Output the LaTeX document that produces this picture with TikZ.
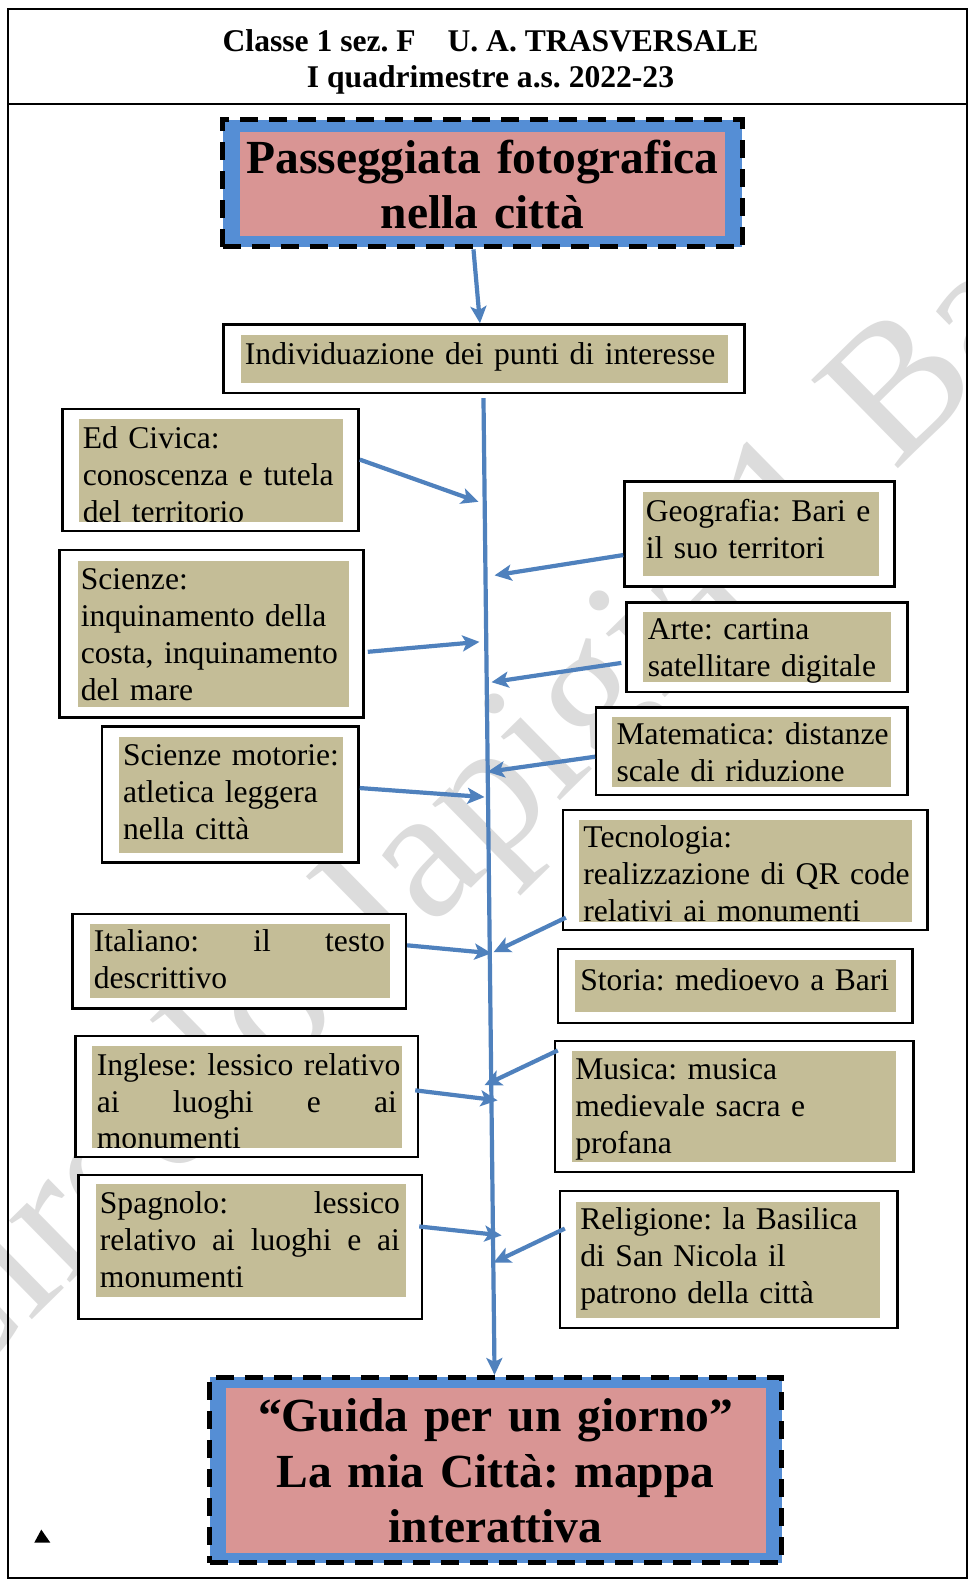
\documentclass[tikz,border=0pt]{standalone}
\usepackage{fontspec}
\setmainfont{Liberation Serif}
\usetikzlibrary{arrows.meta,fit}
\definecolor{tanfill}{HTML}{C4BD97}
\definecolor{pinkfill}{HTML}{D99594}
\definecolor{boxblue}{HTML}{558ED5}
\definecolor{arrblue}{HTML}{4F81BD}
\definecolor{wmgray}{HTML}{DCDCDC}
\frenchspacing
\hyphenpenalty=10000
\exhyphenpenalty=10000
\newcommand\bodyfnt{\fontsize{31.6}{36.9}\selectfont}
\newcommand\titlefnt{\fontsize{47.5}{55.3}\selectfont\bfseries}
\newcommand\headfnt{\fontsize{31.6}{36}\selectfont\bfseries}
\begin{document}
\begin{tikzpicture}[x=1.0073pt, y=-1.0077pt,
  obox/.style={draw=black, line width=2.4pt, fill=white, inner sep=0pt},
  headbox/.style={draw=black, line width=5pt, dash pattern=on 18pt off 11pt, fill=boxblue, inner sep=0pt},
  pinkbox/.style={fill=pinkfill, inner sep=0pt},
  tanbox/.style={fill=tanfill, inner sep=0pt},
  body/.style={anchor=base west, inner sep=0pt, align=left, font=\bodyfnt, text width=#1},
  body/.default=620pt,
  ttl/.style={anchor=base, inner sep=0pt, align=center, font=\titlefnt, text width=600pt},
  arr/.style={draw=arrblue, line width=4.2pt, -{Stealth[length=17pt,width=16pt,inset=4pt]}},
]
\useasboundingbox (0,0) rectangle (961,1568);
\clip (0,0) rectangle (961,1568);
\fill[white] (0,0) rectangle (961,1568);

% watermark
\node[rotate=44.5, anchor=base west, inner sep=0pt, text=wmgray, font=\fontsize{189}{189}\selectfont] (wmk) at (-60,1400) {Circolo Japigia 1 Bari};

% frame and header
\draw[line width=2.5pt] (8,9) rectangle (960,1566);
\draw[line width=2.5pt] (8,103) -- (960,103);
\node[anchor=base, inner sep=0pt, font=\headfnt] (h1) at (487,51) {Classe 1 sez. F\hspace{24pt} U. A. TRASVERSALE};
\node[anchor=base, inner sep=0pt, font=\headfnt] (h2) at (487,87) {I quadrimestre a.s. 2022-23};

% start box
\node[headbox, fit={(221,119)(737,245)}] (start) {};
\node[pinkbox, fit={(238,131)(720,234)}] (startin) {};
\node[ttl] (startt) at (479,172) {Passeggiata fotografica\\nella città};

% individuazione
\node[obox, fit={(222,322)(739,390)}] (ind) {};
\node[tanbox, fit={(239,332)(723,380)}] (indf) {};
\node[body] (indt) at (243,362) {Individuazione dei punti di interesse};

% goal box
\node[headbox, fit={(208,1367)(776,1551)}] (goal) {};
\node[pinkbox, fit={(224,1377)(760,1541)}] (goalin) {};
\node[ttl] (goalt) at (492,1421) {“Guida per un giorno”\\La mia Città: mappa\\interattiva};

% left boxes
\node[obox, fit={(62,406)(356,527)}] (edc) {};
\node[tanbox, fit={(78,416)(341,518)}] (edcf) {};
\begin{scope}
\clip (78,416) rectangle (341,518);
\node[body] (edct) at (82,445) {Ed Civica:\\conoscenza e tutela\\del territorio};
\end{scope}

\node[obox, fit={(59,546)(361,712)}] (sci) {};
\node[tanbox, fit={(77,557)(346,702)}] (scif) {};
\node[body] (scit) at (80,585) {Scienze:\\inquinamento della\\costa, inquinamento\\del mare};

\node[obox, fit={(101,721)(356,856)}] (mot) {};
\node[tanbox, fit={(118,731)(341,847)}] (motf) {};
\node[body] (mott) at (122,760) {Scienze motorie:\\atletica leggera\\nella città};

\node[obox, fit={(72,907)(403,1001)}] (ita) {};
\node[tanbox, fit={(89,917)(387,990)}] (itaf) {};
\node[body=291pt] (itat) at (93,944) {Italiano:\hfill il\hfill testo\\descrittivo};

\node[obox, fit={(75,1028)(415,1148)}] (ing) {};
\node[tanbox, fit={(91,1038)(399,1139)}] (ingf) {};
\begin{scope}
\clip (91,1038) rectangle (399,1139);
\node[body=300pt] (ingt) at (96,1067) {\mbox{Inglese: lessico relativo}\\ai\hfill luoghi\hfill e\hfill ai\\monumenti};
\end{scope}

\node[obox, fit={(78,1166)(419,1309)}] (spa) {};
\node[tanbox, fit={(95,1175)(403,1287)}] (spaf) {};
\node[body=300pt] (spat) at (99,1204) {Spagnolo:\hfill lessico\\relativo\hfill ai\hfill luoghi\hfill e\hfill ai\\monumenti};

% right boxes
\node[obox, fit={(620,478)(888,582)}] (geo) {};
\node[tanbox, fit={(638,488)(873,572)}] (geof) {};
\node[body] (geot) at (641,518) {Geografia: Bari e\\il suo territori};

\node[obox, fit={(622,598)(901,687)}] (art) {};
\node[tanbox, fit={(638,607)(885,677)}] (artf) {};
\node[body] (artt) at (643,635) {Arte: cartina\\satellitare digitale};

\node[obox, fit={(592,702)(901,789)}] (mat) {};
\node[tanbox, fit={(608,712)(885,781)}] (matf) {};
\node[body] (matt) at (612,739) {Matematica: distanze\\scale di riduzione};

\node[obox, fit={(559,804)(921,923)}] (tec) {};
\node[tanbox, fit={(575,814)(905,915)}] (tecf) {};
\begin{scope}
\clip (575,814) rectangle (905,915);
\node[body] (tect) at (579,841) {Tecnologia:\\realizzazione di QR code\\relativi ai monumenti};
\end{scope}

\node[obox, fit={(554,942)(906,1015)}] (sto) {};
\node[tanbox, fit={(571,953)(890,1004)}] (stof) {};
\node[body] (stot) at (576,983) {Storia: medioevo a Bari};

\node[obox, fit={(551,1033)(907,1163)}] (mus) {};
\node[tanbox, fit={(568,1043)(890,1153)}] (musf) {};
\node[body] (must) at (571,1071) {Musica: musica\\medievale sacra e\\profana};

\node[obox, fit={(556,1182)(891,1318)}] (rel) {};
\node[tanbox, fit={(572,1193)(874,1308)}] (relf) {};
\node[body] (relt) at (576,1220) {Religione: la Basilica\\di San Nicola il\\patrono della città};

% connectors
\draw[arr] ([xshift=-9pt]start.south) -- ([xshift=-4pt]ind.north);
\coordinate (spt) at (480,395);
\draw[arr] (spt) -- ([xshift=-1pt]goal.north);

\coordinate (e1) at (475,498);
\coordinate (e2) at (476,637);
\coordinate (e3) at (481,791);
\coordinate (e4) at (488,946);
\coordinate (e5) at (494,1092);
\coordinate (e6) at (498,1226);
\draw[arr] ([yshift=10.5pt]edc.east) -- (e1);
\draw[arr] ([xshift=3pt,yshift=-18pt]sci.east) -- (e2);
\draw[arr] ([yshift=6.5pt]mot.east) -- (e3);
\draw[arr] ([yshift=16pt]ita.east) -- (e4);
\draw[arr] ([xshift=-4pt,yshift=6pt]ing.east) -- (e5);
\draw[arr] ([xshift=-4pt,yshift=20.5pt]spa.east) -- (e6);

\coordinate (w1) at (491,571);
\coordinate (w2) at (488,677);
\coordinate (w3) at (484,766);
\coordinate (w4) at (490,945);
\coordinate (w6) at (481,1077);
\coordinate (w7) at (490,1253);
\draw[arr] ([yshift=-21pt]geo.west) -- (w1);
\draw[arr] ([xshift=-4pt,yshift=-15.5pt]art.west) -- (w2);
\draw[arr] ([yshift=-5.5pt]mat.west) -- (w3);
\draw[arr] ([xshift=4pt,yshift=-47.5pt]tec.west) -- (w4);
\draw[arr] ([xshift=4pt,yshift=56pt]mus.west) -- (w6);
\draw[arr] ([xshift=6pt,yshift=31pt]rel.west) -- (w7);

% small mark
\fill (34,1531) -- (50,1531) -- (41,1518) -- cycle;
\end{tikzpicture}
\end{document}
